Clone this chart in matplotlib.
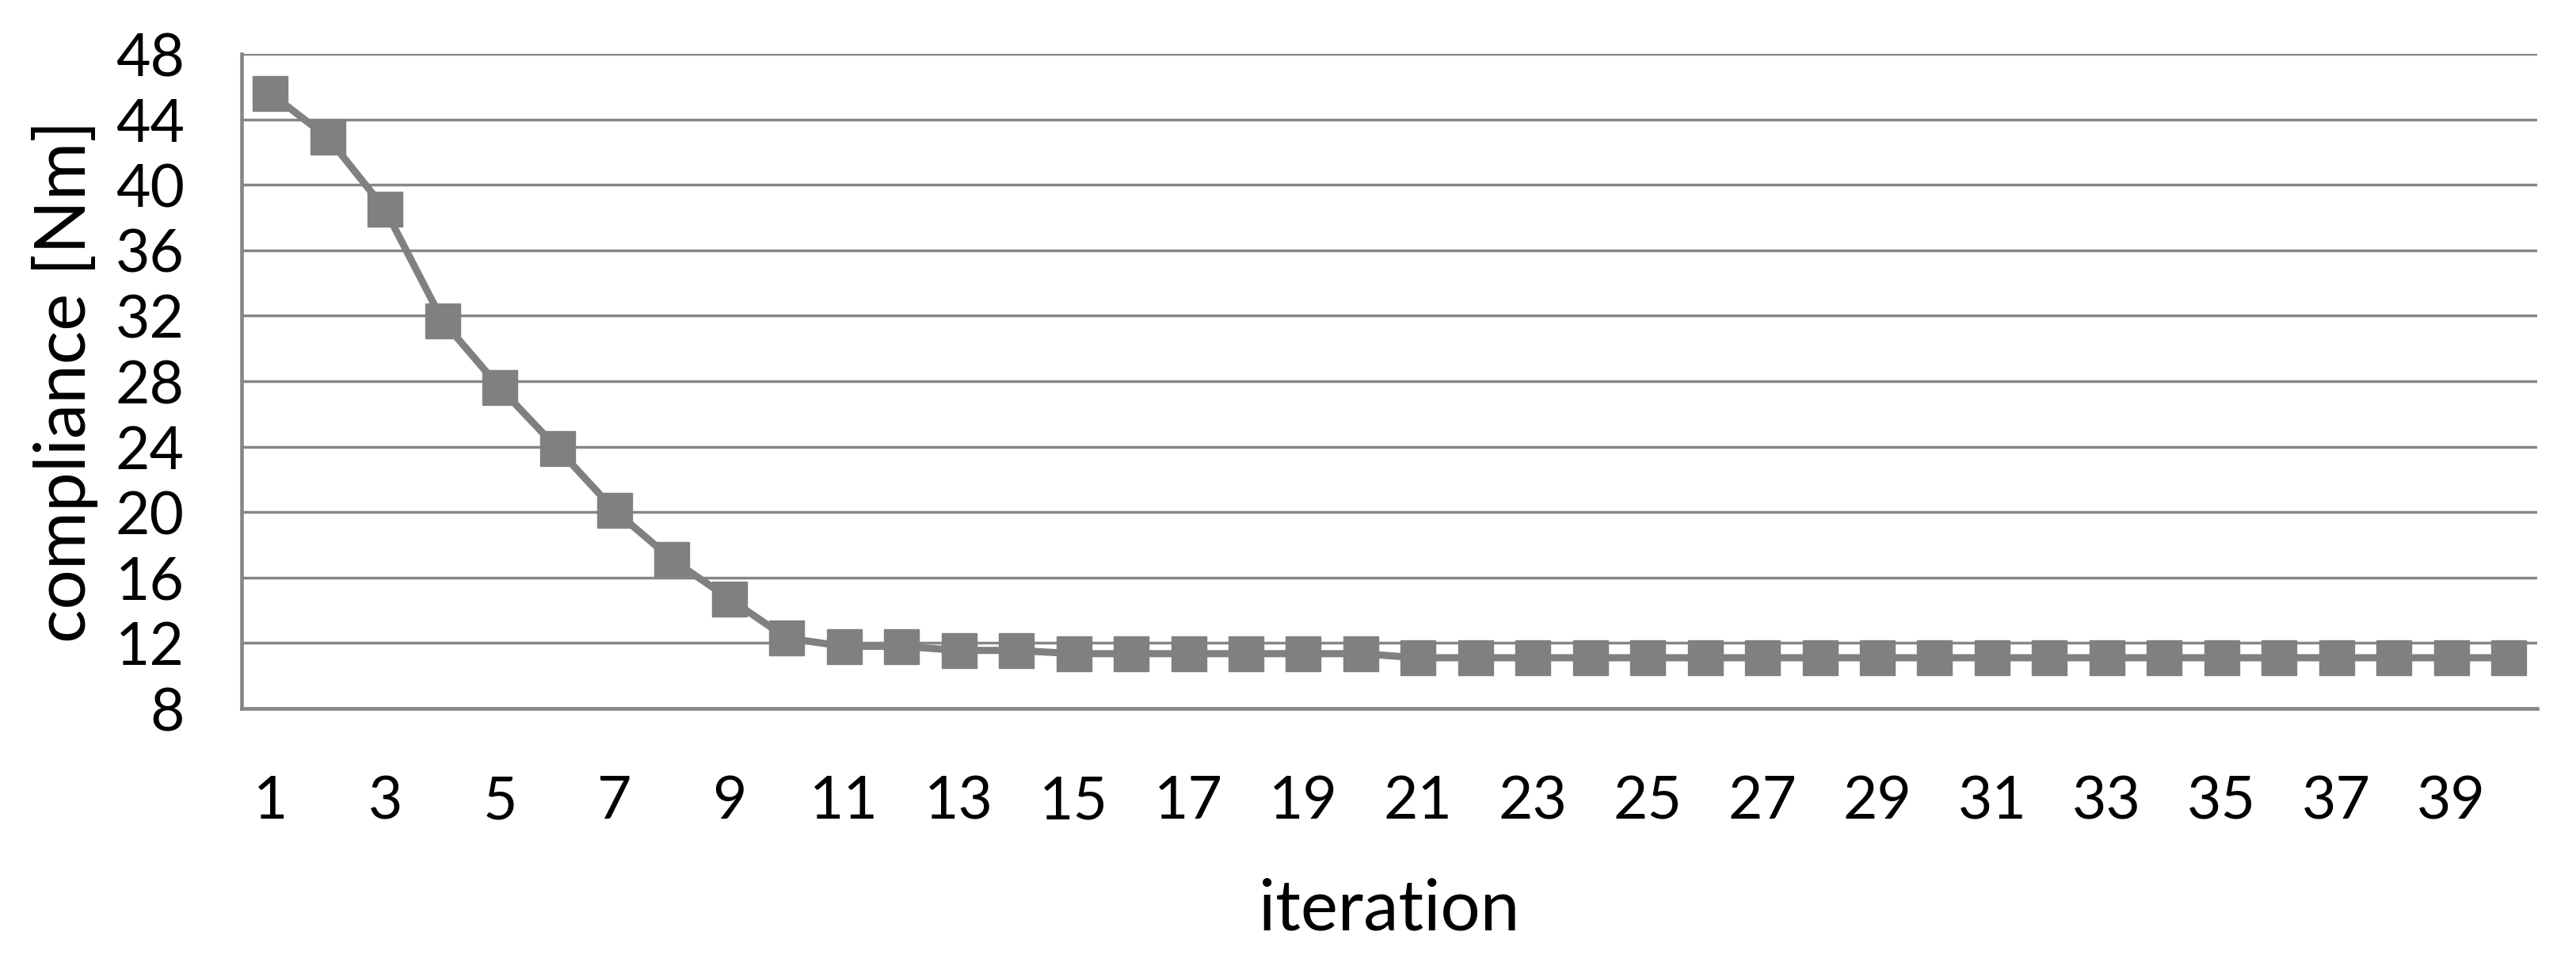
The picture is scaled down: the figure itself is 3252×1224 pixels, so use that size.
import matplotlib
matplotlib.use("Agg")
import matplotlib.pyplot as plt

plt.rcParams['font.family'] = ['Lato', 'DejaVu Sans']

# compliance per iteration
iterations = list(range(1, 41))
compliance = [45.6, 42.9, 38.5, 31.7, 27.6, 23.9, 20.1, 17.1, 14.7, 12.3,
              11.8, 11.8, 11.55, 11.55, 11.35, 11.35, 11.35, 11.35, 11.35, 11.35,
              11.1, 11.1, 11.1, 11.1, 11.1, 11.1, 11.1, 11.1, 11.1, 11.1,
              11.1, 11.1, 11.1, 11.1, 11.1, 11.1, 11.1, 11.1, 11.1, 11.1]
yticks = list(range(8, 49, 4))
xticks = list(range(1, 41, 2))

gray = '#808080'
gridc = '#868686'

fig = plt.figure(figsize=(32.52, 12.24), dpi=100)
ax = fig.add_axes([0.0938, 0.2696, 0.8912, 0.6748])

ax.plot(iterations, compliance, color=gray, linewidth=6.5, marker='s',
        markersize=31, markerfacecolor=gray, markeredgecolor=gray, zorder=3)

ax.set_xlim(0.5, 40.5)
ax.set_ylim(8, 48)
ax.set_yticks(yticks)
ax.set_xticks(xticks)
ax.grid(axis='y', color=gridc, linewidth=2.5)
ax.set_axisbelow(True)

for s in ['right', 'top']:
    ax.spines[s].set_visible(False)
for s in ['left', 'bottom']:
    ax.spines[s].set_color(gridc)
    ax.spines[s].set_linewidth(3.3)

ax.tick_params(axis='both', length=0, labelsize=54)
ax.tick_params(axis='y', pad=52)
ax.tick_params(axis='x', pad=60)

ax.set_xlabel('iteration', fontsize=64, labelpad=44)
ax.set_ylabel('compliance [Nm]', fontsize=64, labelpad=16)

fig.savefig('out.png', dpi=100)
